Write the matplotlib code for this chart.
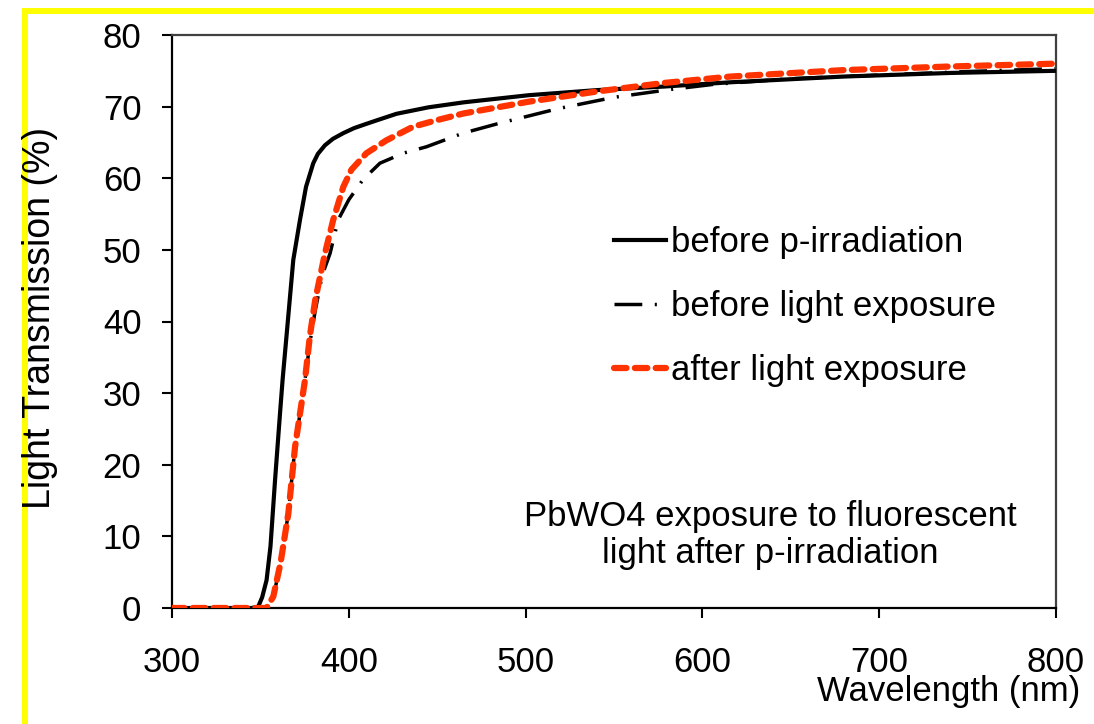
import matplotlib
matplotlib.use("Agg")
import matplotlib.pyplot as plt
from matplotlib.patches import Rectangle

plt.rcParams['font.family'] = ['Liberation Sans', 'DejaVu Sans']
plt.rcParams['lines.scale_dashes'] = False

# before p-irradiation (solid black)
wl_before_p = [300, 345, 348.8, 351, 353.5, 355.7, 358.3, 361.1, 362.6, 365.5, 368.6, 372.4, 375.8,
               379.9, 382.5, 386.5, 391, 396.9, 403, 410, 416, 427, 445, 465, 502, 540, 578, 616,
               680, 740, 800]
tr_before_p = [0, 0, 0.2, 1.5, 3.9, 8.6, 17.9, 27.2, 32, 40, 48.6, 54.2, 58.8,
               62.1, 63.4, 64.6, 65.5, 66.3, 67.0, 67.6, 68.1, 69.0, 69.9, 70.6, 71.6, 72.3, 72.8,
               73.4, 74.2, 74.7, 75.0]

# before light exposure (dash-dot black)
wl_before_light = [300, 353.5, 357.3, 361.4, 365.8, 369.6, 375.2, 378, 381, 385, 389.4, 394, 400,
                   408, 417.6, 430.8, 444, 464.7, 484, 518, 550, 582, 606, 650, 700, 750, 800]
tr_before_light = [0, 0, 1.5, 6.3, 13.2, 22.5, 31.8, 37, 41.5, 46.5, 49.5, 54.2, 57,
                   59.8, 62.1, 63.5, 64.4, 66.3, 67.6, 69.7, 71.3, 72.4, 73.1, 73.9, 74.4, 74.9, 75.3]

# after light exposure (red dashed)
wl_after_light = [300, 353.5, 357.3, 361.4, 365.8, 369.6, 375.2, 378, 381, 386.5, 391.2, 396.9,
                  401.5, 410, 421.3, 436.4, 449.6, 465, 502, 540, 578, 616, 680, 740, 800]
tr_after_light = [0, 0, 1.6, 6.3, 13.2, 22.5, 31.8, 38, 43, 49.5, 54.2, 58.8,
                  61.2, 63.5, 65.3, 67.2, 68.1, 69.05, 70.7, 72.1, 73.3, 74.2, 75.1, 75.6, 76.0]

labels = ["before p-irradiation", "before light exposure", "after light exposure"]
x_ticks = [300, 400, 500, 600, 700, 800]
y_ticks = [0, 10, 20, 30, 40, 50, 60, 70, 80]

W, H = 1094, 724
fig = plt.figure(figsize=(W / 100, H / 100), dpi=100)
fig.patch.set_facecolor('white')

# yellow frame (top and left visible)
fig.patches.append(Rectangle((24.5, -100), 3000, H - 10.5 + 100, transform=None,
                             fill=False, edgecolor='#FFFF00', linewidth=4.3, zorder=0))

ax = fig.add_axes([172 / W, 1 - 608 / H, (1056 - 172) / W, (608 - 35) / H])

l1, = ax.plot(wl_before_p, tr_before_p, color='black', lw=3.0, solid_joinstyle='round',
              label=labels[0], zorder=3)
l2, = ax.plot(wl_before_light, tr_before_light, color='black', lw=2.5,
              linestyle=(0, (20, 9, 1.5, 9)), label=labels[1], zorder=2)
l3, = ax.plot(wl_after_light, tr_after_light, color='#FF3300', lw=4.5,
              linestyle=(0, (9, 6)), dash_capstyle='round', label=labels[2], zorder=4)

ax.set_xlim(300, 800)
ax.set_ylim(0, 80)
ax.set_xticks(x_ticks)
ax.set_yticks(y_ticks)
ax.tick_params(axis='both', direction='out', length=7, width=1.5, labelsize=25, colors='black')
ax.tick_params(axis='x', pad=20)
ax.tick_params(axis='y', pad=15)
for side in ['left', 'bottom']:
    ax.spines[side].set_linewidth(1.6)
    ax.spines[side].set_color('black')
for side in ['top', 'right']:
    ax.spines[side].set_linewidth(1.6)
    ax.spines[side].set_color('#404040')

fig.text(40 / W, 1 - 318 / H, "Light Transmission (%)", fontsize=27, rotation=90,
         ha='center', va='center')
fig.text(1080 / W, 1 - 692 / H, "Wavelength (nm)", fontsize=25, ha='right', va='center')

fig.text(770 / W, 1 - 535 / H, "PbWO4 exposure to fluorescent\nlight after p-irradiation",
         fontsize=25, ha='center', va='center', linespacing=1.15)

leg = ax.legend(handles=[l1, l2, l3], loc='upper left', bbox_to_anchor=(600 / W, 1 - 212 / H),
                bbox_transform=fig.transFigure, frameon=False, fontsize=25,
                handlelength=1.5, handletextpad=0.15, labelspacing=0.9, borderaxespad=0)

fig.savefig("out.png", dpi=100, facecolor='white')
